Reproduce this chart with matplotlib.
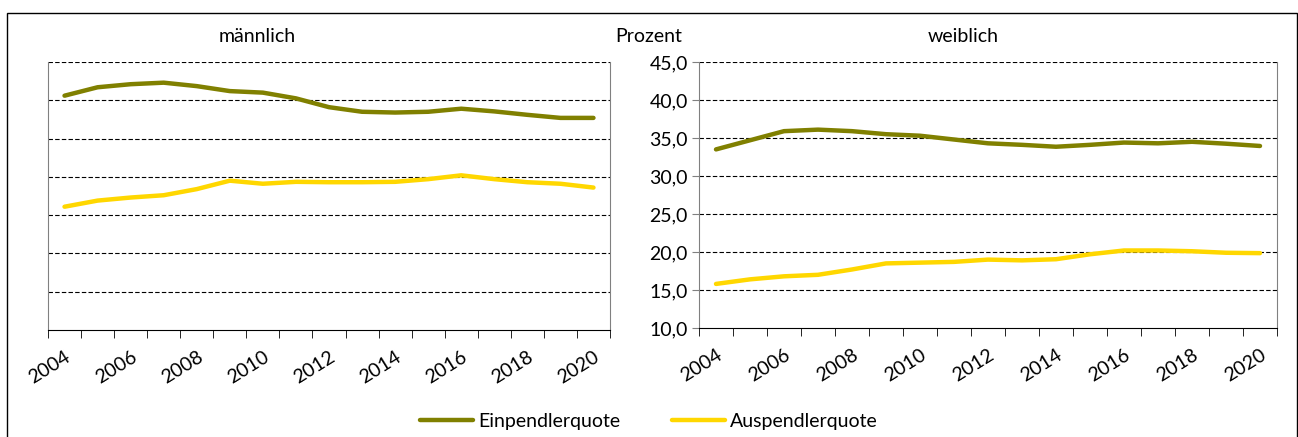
import numpy as np
import matplotlib
matplotlib.use('Agg')
import matplotlib.pyplot as plt
from matplotlib.patches import Rectangle
from matplotlib.ticker import FuncFormatter

plt.rcParams['font.family'] = ['Lato', 'DejaVu Sans']

years = list(range(2004, 2021))
# Einpendler-/Auspendlerquote in Prozent
ein_m = [40.6, 41.7, 42.1, 42.3, 41.85, 41.2, 41.0, 40.25, 39.1, 38.5, 38.4, 38.5, 38.9, 38.55, 38.1, 37.7, 37.7]
aus_m = [26.1, 26.9, 27.3, 27.6, 28.4, 29.5, 29.1, 29.35, 29.3, 29.3, 29.35, 29.7, 30.2, 29.7, 29.3, 29.1, 28.6]
ein_w = [33.5, 34.7, 35.9, 36.1, 35.9, 35.5, 35.3, 34.8, 34.3, 34.1, 33.85, 34.1, 34.4, 34.3, 34.5, 34.25, 33.95]
aus_w = [15.8, 16.4, 16.8, 17.0, 17.7, 18.5, 18.6, 18.7, 19.0, 18.9, 19.05, 19.7, 20.2, 20.2, 20.1, 19.9, 19.85]

c_ein = '#808000'
c_aus = '#FFD700'
fs = 14

W, H = 1298, 437
fig = plt.figure(figsize=(W/100, H/100), dpi=100)

# outer frame
fig.patches.append(Rectangle((7/W, -0.05), 1290/W, 1.05 - 13/H, transform=fig.transFigure,
                             fill=False, edgecolor='black', linewidth=1.0))

def ax_rect(x0, x1, y0, y1):
    return [x0/W, 1 - y1/H, (x1 - x0)/W, (y1 - y0)/H]

axL = fig.add_axes(ax_rect(48, 610, 62, 330))
axR = fig.add_axes(ax_rect(699, 1277, 62, 328))

x = np.arange(len(years))
for ax, ein, aus in [(axL, ein_m, aus_m), (axR, ein_w, aus_w)]:
    ax.plot(x, ein, color=c_ein, lw=3.2, solid_capstyle='round', label='Einpendlerquote')
    ax.plot(x, aus, color=c_aus, lw=3.2, solid_capstyle='round', label='Auspendlerquote')
    ax.set_xlim(-0.5, len(years) - 0.5)
    ax.set_ylim(10, 45)
    ax.set_yticks(np.arange(10, 46, 5))
    for yv in np.arange(15, 46, 5):
        ax.axhline(yv, color='black', lw=0.8, ls=(0, (4, 2)), zorder=0)
    ax.set_xticks(x[::2])
    ax.set_xticklabels([str(y) for y in years[::2]], rotation=32, ha='right',
                       va='top', rotation_mode='anchor', fontsize=fs)
    ax.set_xticks(np.arange(-0.5, len(years), 1), minor=True)
    ax.tick_params(axis='x', which='major', length=0, pad=13)
    ax.tick_params(axis='x', which='minor', length=6, color='black', direction='out')
    ax.spines['top'].set_visible(False)
    for s in ['left', 'right']:
        ax.spines[s].set_color('#808080')
    ax.spines['bottom'].set_color('black')

axL.tick_params(axis='y', length=0, labelleft=False)
axR.yaxis.set_major_formatter(FuncFormatter(lambda v, p: ('%.1f' % v).replace('.', ',')))
axR.tick_params(axis='y', length=5, color='#808080', labelsize=fs, pad=3)

fig.text(257/W, 1 - 36/H, 'männlich', ha='center', va='center', fontsize=fs)
fig.text(963/W, 1 - 36/H, 'weiblich', ha='center', va='center', fontsize=fs)
fig.text(649/W, 1 - 36/H, 'Prozent', ha='center', va='center', fontsize=fs)

handles, labels = axL.get_legend_handles_labels()
fig.legend(handles, labels, loc='center', bbox_to_anchor=(0.5, 1 - 421/H), ncol=2,
           frameon=False, fontsize=fs, handlelength=2.7, handletextpad=0.25,
           columnspacing=2.7)

fig.savefig('out.png', dpi=100)
